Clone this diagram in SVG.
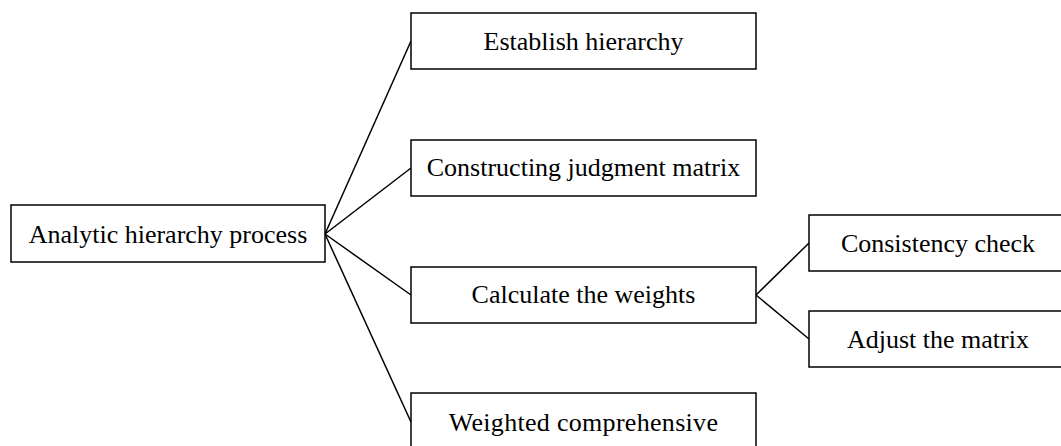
<svg xmlns="http://www.w3.org/2000/svg" width="1061" height="446" viewBox="0 0 1061 446">
<style>
rect{fill:#fff;stroke:#000;stroke-width:1.5}
text{font-family:"Liberation Serif","Times New Roman",serif;font-size:26px;fill:#000;text-anchor:middle}
#connectors line{stroke:#000;stroke-width:1.5}
</style>
<rect x="0" y="0" width="1061" height="446" style="stroke:none"/>
<g id="connectors">
<line x1="325" y1="234" x2="411" y2="41"/>
<line x1="325" y1="234" x2="411" y2="168"/>
<line x1="325" y1="234" x2="411" y2="295"/>
<line x1="325" y1="234" x2="411" y2="422"/>
<line x1="756" y1="295" x2="809" y2="243"/>
<line x1="756" y1="295" x2="809" y2="339"/>
</g>
<g id="root"><rect x="11" y="205" width="314" height="57"/><text x="168" y="243">Analytic hierarchy process</text></g>
<g id="establish"><rect x="411" y="13" width="345" height="56"/><text x="583.5" y="50">Establish hierarchy</text></g>
<g id="construct"><rect x="411" y="140" width="345" height="56"/><text x="583.5" y="176">Constructing judgment matrix</text></g>
<g id="calculate"><rect x="411" y="267" width="345" height="56"/><text x="583.5" y="303">Calculate the weights</text></g>
<g id="weighted"><rect x="411" y="393" width="345" height="60"/><text x="583.5" y="431" style="letter-spacing:0.3px">Weighted comprehensive</text></g>
<g id="consistency"><rect x="809" y="215" width="258" height="56"/><text x="938" y="252">Consistency check</text></g>
<g id="adjust"><rect x="809" y="311" width="258" height="56"/><text x="938" y="348">Adjust the matrix</text></g>
</svg>
